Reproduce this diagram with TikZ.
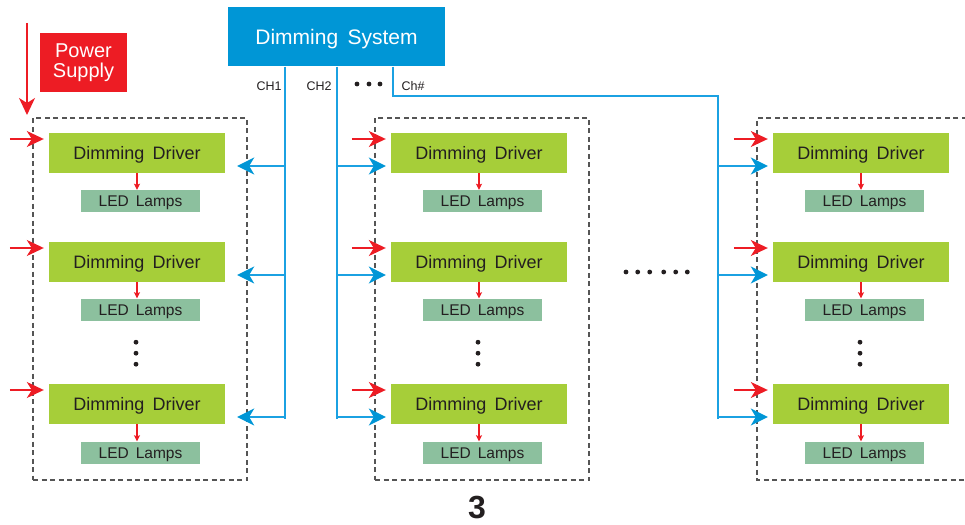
\documentclass[tikz,border=0pt]{standalone}
\usepackage{fontspec}
\setmainfont{Liberation Sans}
\usetikzlibrary{arrows.meta,calc}
\definecolor{dsblue}{HTML}{0096D6}
\definecolor{lnblue}{HTML}{1BA1E2}
\definecolor{pred}{HTML}{ED1C24}
\definecolor{drvgreen}{HTML}{A6CE39}
\definecolor{ledgreen}{HTML}{8CC09E}
\definecolor{txt}{HTML}{231F20}
\definecolor{dashgray}{HTML}{555555}
\tikzset{
  drv/.style={fill=drvgreen,minimum width=176pt,minimum height=40pt,inner sep=0pt,text=txt,font=\fontsize{18}{18}\selectfont,text height=12.9pt,text depth=0pt},
  led/.style={fill=ledgreen,minimum width=119pt,minimum height=22pt,inner sep=0pt,text=txt,font=\fontsize{15.5}{15.5}\selectfont,text height=11.1pt,text depth=0pt},
  grp/.style={draw=dashgray,line width=1.2pt,dash pattern=on 5pt off 3.5pt},
  blarrow/.style={draw=lnblue,line width=1.5pt,-{Stealth[length=17pt,width=17pt,inset=5pt,color=dsblue]}},
  blline/.style={draw=lnblue,line width=1.5pt},
  rdarrow/.style={draw=pred,line width=1.3pt,-{Stealth[length=17pt,width=16pt,inset=5pt]}},
  smarrow/.style={draw=pred,line width=1.1pt,-{Stealth[length=6pt,width=6pt,inset=1pt]}},
  lbl/.style={text=txt,font=\fontsize{12.5}{12.5}\selectfont,inner sep=0pt},
  dotc/.style={fill=txt,draw=none}
}
\newcommand{\wsp}{\hspace{0.45em}}
\begin{document}
\begin{tikzpicture}[x=1pt,y=-1pt]
\useasboundingbox (0,0) rectangle (965,524);
\clip (0,0) rectangle (965,524);
% dimming system and power supply
\node[fill=dsblue,minimum width=217pt,minimum height=59pt,inner sep=0pt,text=white,font=\fontsize{21}{21}\selectfont,text height=15pt,text depth=0pt] (ds) at (336.5,37) {Dimming\wsp System};
\node[fill=pred,minimum width=87pt,minimum height=59pt,inner sep=0pt,text=white,align=center,font=\fontsize{20}{19.5}\selectfont] (ps) at (83.5,62.5) {Power\\Supply};
% group boxes
\node[grp,minimum width=214pt,minimum height=362pt,inner sep=0pt] (g1) at (140,299) {};
\node[grp,minimum width=214pt,minimum height=362pt,inner sep=0pt] (g2) at (482,299) {};
\draw[grp] (975,118) -- (757,118) coordinate (g3tl) -- (757,480) -- (975,480);
% drivers and leds
\foreach \c/\x in {1/137,2/479,3/861}{
  \foreach \r/\y/\ly in {1/153/201,2/262/309.5,3/404/452.5}{
    \node[drv] (d\c\r) at (\x,\y) {Dimming\wsp Driver};
    \node[led] (l\c\r) at (\x+3.5,\ly) {LED\wsp Lamps};
    \draw[smarrow] (d\c\r.south) -- (d\c\r.south |- l\c\r.north);
    \coordinate (pin\c\r) at ($(d\c\r.west)+(-39,-14)$);
    \draw[rdarrow] (pin\c\r) -- ($(d\c\r.west)+(-5,-14)$);
  }
}
% power supply arrow
\coordinate (pstop) at (27,23);
\draw[rdarrow] (pstop) -- (27,115);
% vertical dots
\foreach \c in {1,2,3}{
  \foreach \dy in {0,11,22}{
    \fill[dotc] ($(l\c1.south)+(-4.5,0)$) ++(0,130+\dy) circle (2.4pt);
  }
}
% horizontal dots
\foreach \x in {626,637.7,649.7,663.7,675.7,687.3}{\fill[dotc] (\x,272) circle (2.4pt);}
\foreach \x in {357,369,380}{\fill[dotc] (\x,84) circle (2.4pt);}
% channels
\coordinate (c1) at (285,0);
\coordinate (c2) at (337,0);
\coordinate (c3) at (393,0);
\coordinate (c3v) at (718,0);
\draw[blline] (ds.south -| c1) -- (285,419);
\draw[blline] (ds.south -| c2) -- (337,419);
\draw[blline] (ds.south -| c3) -- (393,96) -- (718,96) -- (718,419);
\foreach \r in {1,2,3}{
  \coordinate (e1\r) at ($(d1\r.east)+(12,13)$);
  \coordinate (e2\r) at ($(d2\r.west)+(-5,13)$);
  \coordinate (e3\r) at ($(d3\r.west)+(-5,13)$);
  \draw[blarrow] (e1\r -| c1) -- (e1\r);
  \draw[blarrow] (e2\r -| c2) -- (e2\r);
  \draw[blarrow] (e3\r -| c3v) -- (e3\r);
}
\node[lbl] (ch1) at (269,86) {CH1};
\node[lbl] (ch2) at (319,86) {CH2};
\node[lbl] (chn) at (413,86) {Ch\#};
\node[text=txt,font=\fontsize{32}{32}\selectfont\bfseries,anchor=base,inner sep=0pt] (num) at (477,518.5) {3};
\end{tikzpicture}
\end{document}
